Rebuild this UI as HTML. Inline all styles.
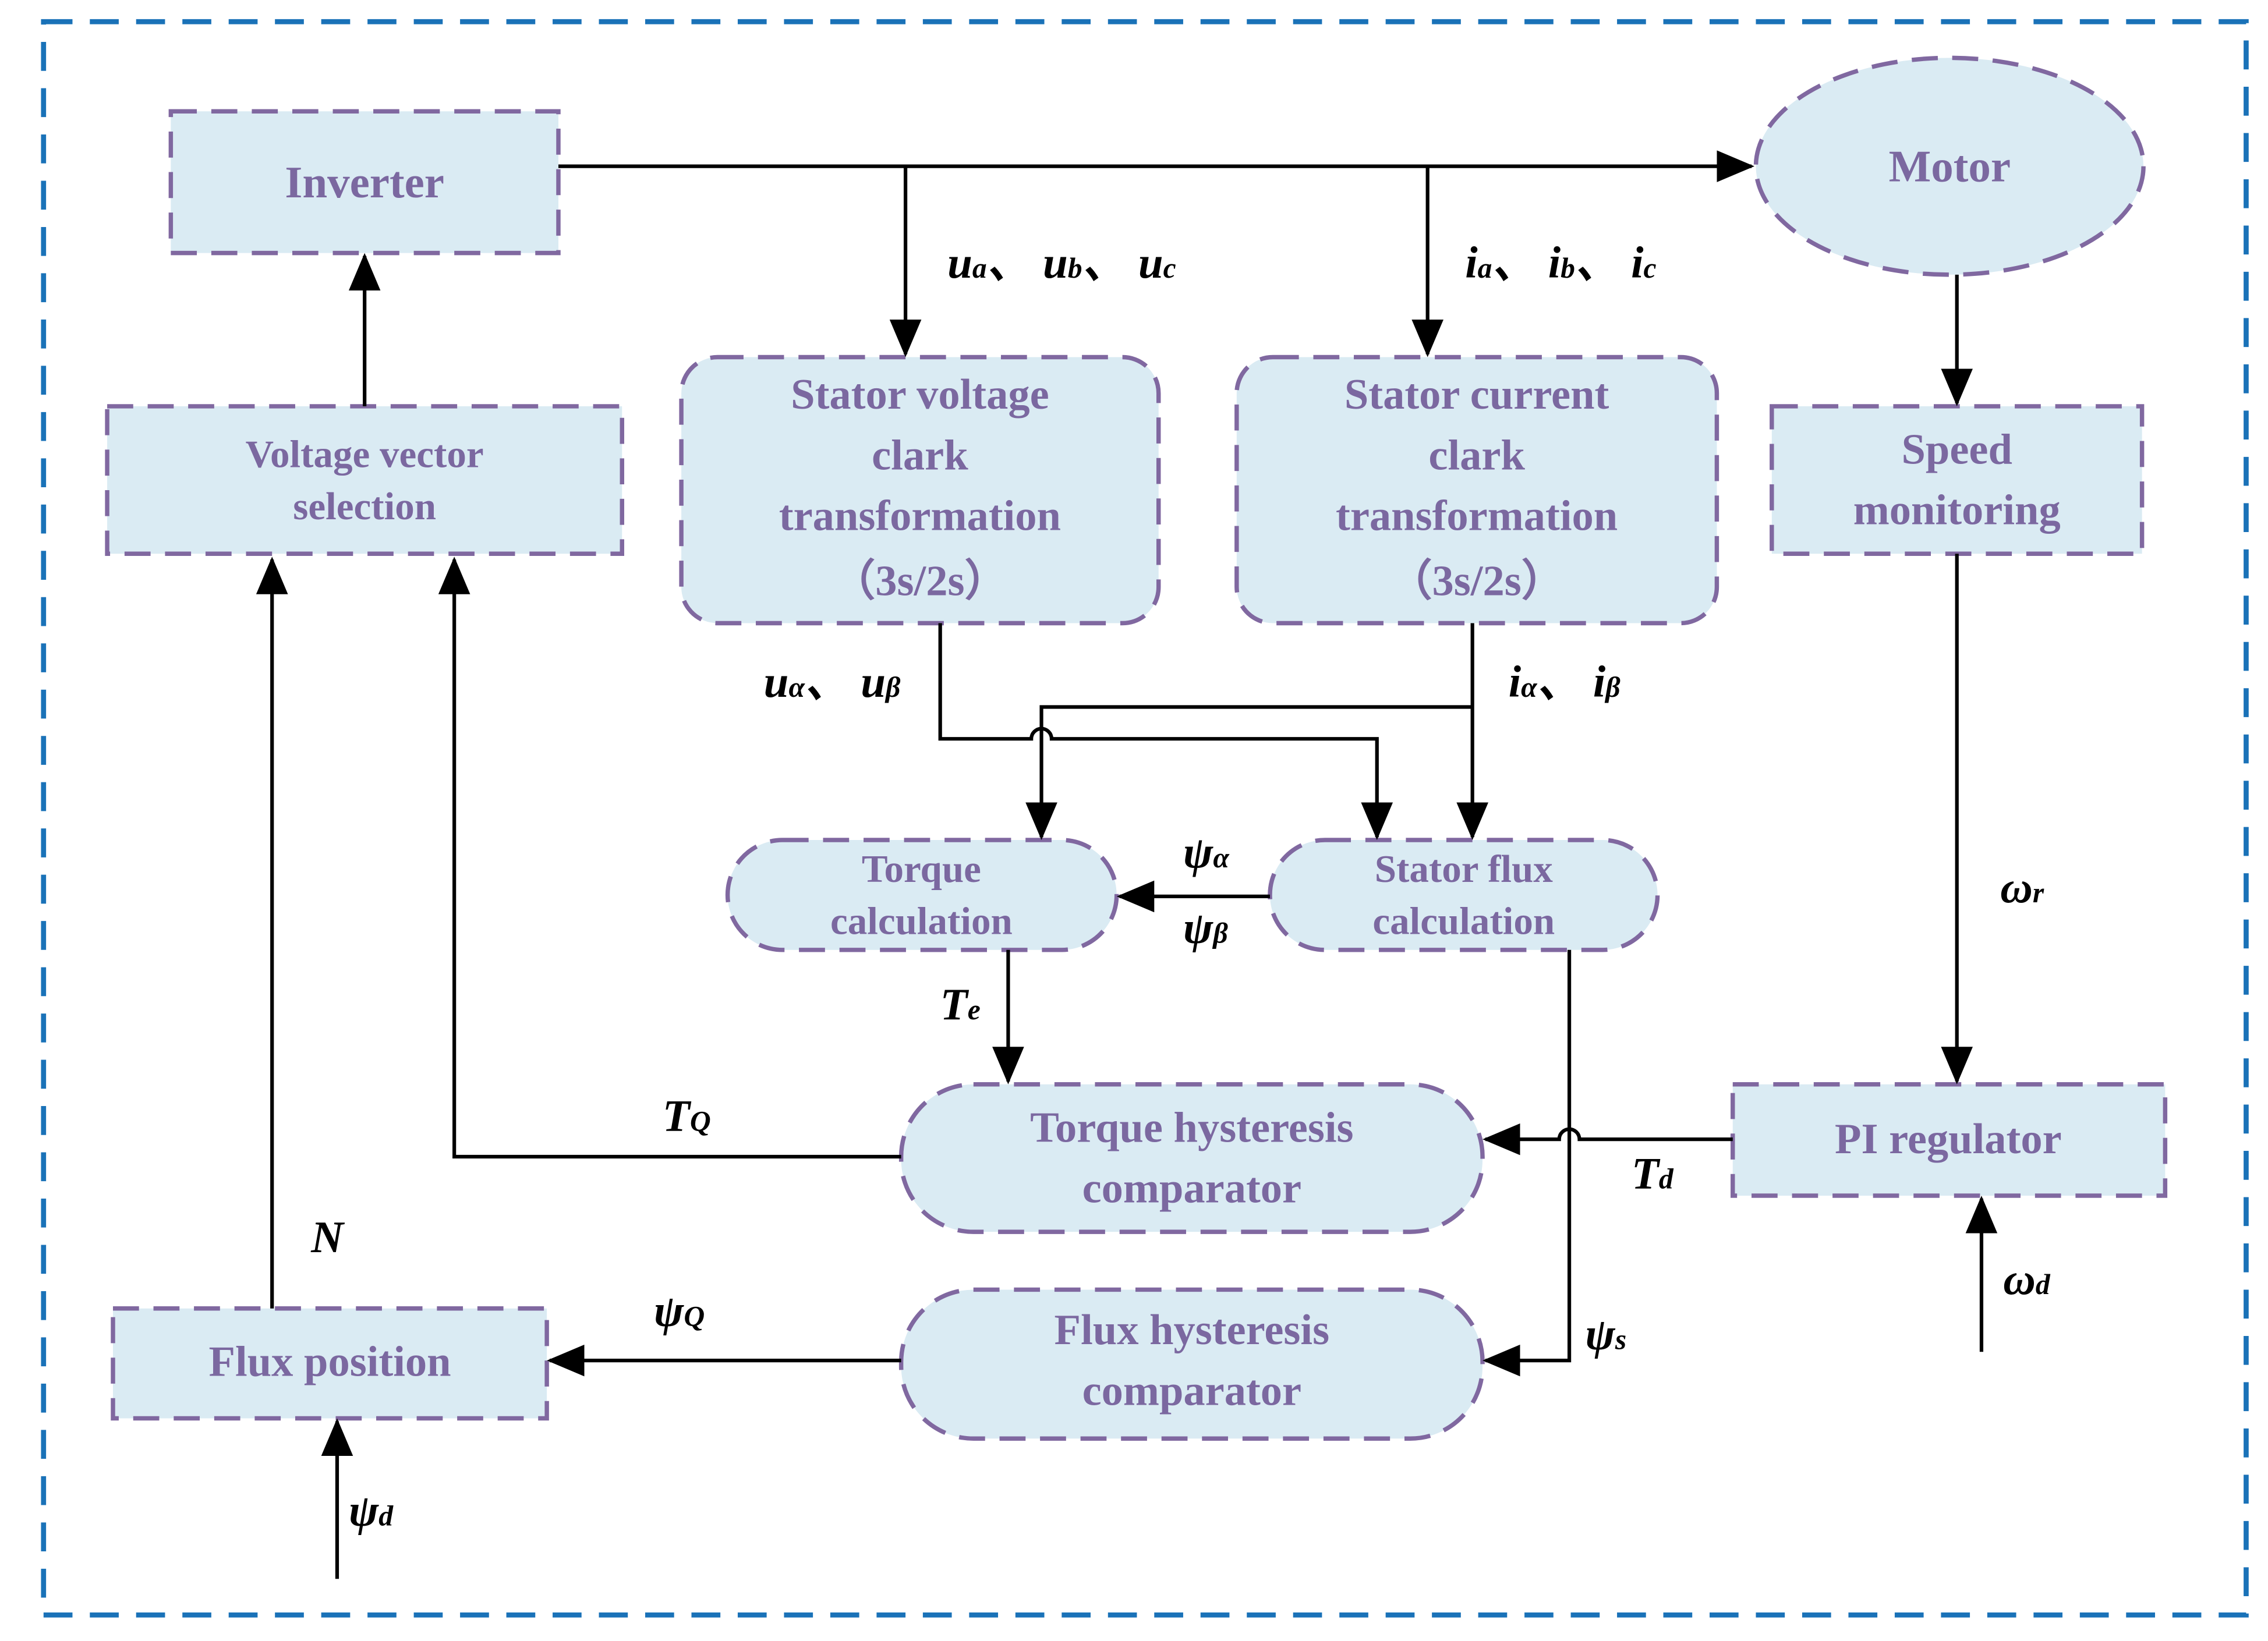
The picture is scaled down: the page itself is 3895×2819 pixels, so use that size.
<!DOCTYPE html>
<html><head><meta charset="utf-8"><style>
html,body{margin:0;padding:0;background:#fff;}
svg{display:block;}
.b{fill:#daebf3;stroke:#8068a0;stroke-width:3;stroke-dasharray:18 10;}
.t{font-family:"Liberation Serif",serif;font-weight:bold;fill:#7b68a0;text-anchor:middle;dominant-baseline:central;}
.l{fill:none;stroke:#000;stroke-width:2.5;}
.m{font-family:"Liberation Serif",serif;font-style:italic;font-weight:bold;fill:#000;font-size:31px;}
.s{font-size:20px;}
</style></head><body>
<svg width="3895" height="2819" viewBox="0 0 1568 1135" xmlns="http://www.w3.org/2000/svg">
<defs>
<marker id="A" markerWidth="26" markerHeight="22" refX="24" refY="11" orient="auto" markerUnits="userSpaceOnUse"><path d="M0,0 L26,11 L0,22 z" fill="#000"/></marker></defs>
<rect x="30" y="15" width="1523" height="1102" fill="none" stroke="#1a72b8" stroke-width="3.5" stroke-dasharray="20 12"/>

<rect class="b" x="118" y="77" width="268" height="98"/>
<text class="t" x="252" y="126" font-size="31">Inverter</text>
<ellipse class="b" cx="1348" cy="115" rx="134" ry="75"/>
<text class="t" x="1348" y="115" font-size="31">Motor</text>
<rect class="b" x="471" y="247" width="330" height="184" rx="25"/>
<text class="t" x="636" y="273" font-size="30">Stator voltage</text>
<text class="t" x="636" y="315" font-size="30">clark</text>
<text class="t" x="636" y="357" font-size="30">transformation</text>
<text class="t" x="636" y="402" font-size="30">（3s/2s）</text>
<rect class="b" x="855" y="247" width="332" height="184" rx="25"/>
<text class="t" x="1021" y="273" font-size="30">Stator current</text>
<text class="t" x="1021" y="315" font-size="30">clark</text>
<text class="t" x="1021" y="357" font-size="30">transformation</text>
<text class="t" x="1021" y="402" font-size="30">（3s/2s）</text>
<rect class="b" x="1225" y="281" width="256" height="102"/>
<text class="t" x="1353" y="311" font-size="30">Speed</text>
<text class="t" x="1353" y="353" font-size="30">monitoring</text>
<rect class="b" x="74" y="281" width="356" height="102"/>
<text class="t" x="252" y="314" font-size="27">Voltage vector</text>
<text class="t" x="252" y="350" font-size="27">selection</text>
<rect class="b" x="503" y="581" width="269" height="76" rx="38"/>
<text class="t" x="637" y="601" font-size="27">Torque</text>
<text class="t" x="637" y="637" font-size="27">calculation</text>
<rect class="b" x="878" y="581" width="268" height="76" rx="38"/>
<text class="t" x="1012" y="601" font-size="27">Stator flux</text>
<text class="t" x="1012" y="637" font-size="27">calculation</text>
<rect class="b" x="623" y="750" width="402" height="102" rx="50"/>
<text class="t" x="824" y="780" font-size="30">Torque hysteresis</text>
<text class="t" x="824" y="822" font-size="30">comparator</text>
<rect class="b" x="1198" y="750" width="299" height="77"/>
<text class="t" x="1347" y="788" font-size="30">PI regulator</text>
<rect class="b" x="623" y="892" width="402" height="103" rx="50"/>
<text class="t" x="824" y="920" font-size="30">Flux hysteresis</text>
<text class="t" x="824" y="962" font-size="30">comparator</text>
<rect class="b" x="78" y="905" width="300" height="76"/>
<text class="t" x="228" y="942" font-size="30">Flux position</text>

<path class="l" d="M386,115 H1211" marker-end="url(#A)"/>
<path class="l" d="M626,115 V245" marker-end="url(#A)"/>
<path class="l" d="M987,115 V245" marker-end="url(#A)"/>
<path class="l" d="M1353,190 V279" marker-end="url(#A)"/>
<path class="l" d="M252,281 V177" marker-end="url(#A)"/>
<path class="l" d="M650,431 V511 H713 A7,7 0 0 1 727,511 H952 V579" marker-end="url(#A)"/>
<path class="l" d="M1018,431 V579" marker-end="url(#A)"/>
<path class="l" d="M1018,489 H720 V579" marker-end="url(#A)"/>
<path class="l" d="M878,620 H774" marker-end="url(#A)"/>
<path class="l" d="M697,657 V748" marker-end="url(#A)"/>
<path class="l" d="M1085,657 V941 H1027" marker-end="url(#A)"/>
<path class="l" d="M1353,383 V748" marker-end="url(#A)"/>
<path class="l" d="M1198,788 H1092 A7,7 0 0 0 1078,788 H1027" marker-end="url(#A)"/>
<path class="l" d="M1370,935 V829" marker-end="url(#A)"/>
<path class="l" d="M623,800 H314 V387" marker-end="url(#A)"/>
<path class="l" d="M623,941 H380" marker-end="url(#A)"/>
<path class="l" d="M188,905 V387" marker-end="url(#A)"/>
<path class="l" d="M233,1092 V983" marker-end="url(#A)"/>

<text class="m" x="655" y="192">u<tspan class="s">a</tspan>、 u<tspan class="s">b</tspan>、 u<tspan class="s">c</tspan></text>
<text class="m" x="1013" y="192">i<tspan class="s">a</tspan>、 i<tspan class="s">b</tspan>、 i<tspan class="s">c</tspan></text>
<text class="m" x="528" y="482">u<tspan class="s">α</tspan>、 u<tspan class="s">β</tspan></text>
<text class="m" x="1043" y="482">i<tspan class="s">α</tspan>、 i<tspan class="s">β</tspan></text>
<text class="m" x="818" y="600">ψ<tspan class="s">α</tspan></text>
<text class="m" x="818" y="652">ψ<tspan class="s">β</tspan></text>
<text class="m" x="650" y="705">T<tspan class="s">e</tspan></text>
<text class="m" x="1383" y="624">ω<tspan class="s">r</tspan></text>
<text class="m" x="458" y="782">T<tspan class="s">Q</tspan></text>
<text class="m" x="1128" y="822">T<tspan class="s">d</tspan></text>
<text class="m" x="1385" y="895">ω<tspan class="s">d</tspan></text>
<text class="m" x="215" y="866">N</text>
<text class="m" x="452" y="917">ψ<tspan class="s">Q</tspan></text>
<text class="m" x="1096" y="933">ψ<tspan class="s">s</tspan></text>
<text class="m" x="241" y="1055">ψ<tspan class="s">d</tspan></text>
</svg>
</body></html>
